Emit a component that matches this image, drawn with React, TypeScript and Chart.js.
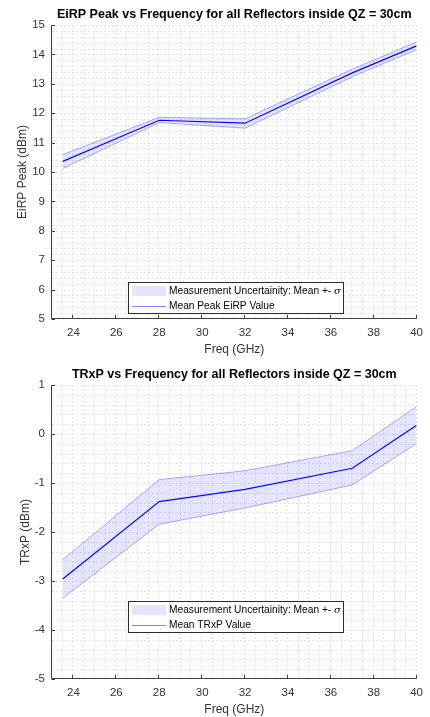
import React, { useEffect, useRef } from "react";
import { Chart, registerables } from "chart.js";

Chart.register(...registerables);

// Frequencies of the measurement points (GHz)
const FREQ_GHZ = [23.5, 28, 32, 37, 40];

// Peak EiRP over all reflectors inside QZ = 30cm (dBm)
const EIRP_MEAN = [10.36, 11.76, 11.66, 13.37, 14.29];
const EIRP_UPPER = [10.59, 11.86, 11.81, 13.5, 14.42];
const EIRP_LOWER = [10.12, 11.68, 11.49, 13.24, 14.16];

// TRxP over all reflectors inside QZ = 30cm (dBm)
const TRXP_MEAN = [-2.96, -1.38, -1.13, -0.7, 0.18];
const TRXP_UPPER = [-2.57, -0.93, -0.75, -0.34, 0.56];
const TRXP_LOWER = [-3.35, -1.84, -1.51, -1.04, -0.19];

// Axis ticks
const FREQ_TICKS = [24, 26, 28, 30, 32, 34, 36, 38, 40];
const EIRP_TICKS = [5, 6, 7, 8, 9, 10, 11, 12, 13, 14, 15];
const TRXP_TICKS = [-5, -4, -3, -2, -1, 0, 1];

const FONT = "'Liberation Sans', Arial, Helvetica, sans-serif";
const BAND_FILL = "rgba(0, 0, 255, 0.1)";
const BAND_EDGE = "rgba(0, 0, 255, 0.32)";
const MEAN_LINE = "rgb(10, 10, 245)";
const AXIS_COLOR = "#404040";
const TEXT_COLOR = "#333333";

const points = (ys: number[]) => FREQ_GHZ.map((x, i) => ({ x, y: ys[i] }));

// MATLAB-style axes: dotted major/minor grid, inward tick marks,
// left/bottom axis lines, titles and a boxed legend.
const matlabAxes = {
  id: "matlabAxes",
  beforeDatasetsDraw(chart: any, _args: any, opts: any) {
    const { ctx, chartArea: a, scales } = chart;
    const x = scales.x;
    const y = scales.y;
    ctx.save();
    ctx.strokeStyle = "#e2e2e2";
    ctx.lineWidth = 1;
    ctx.setLineDash([2, 2]);
    const nx = Math.round((x.max - x.min) / opts.xMinor);
    for (let i = 1; i <= nx; i++) {
      const px = Math.round(x.getPixelForValue(x.min + i * opts.xMinor)) - 0.5;
      ctx.beginPath();
      ctx.moveTo(px, a.top);
      ctx.lineTo(px, a.bottom);
      ctx.stroke();
    }
    const ny = Math.round((y.max - y.min) / opts.yMinor);
    for (let i = 1; i <= ny; i++) {
      const py = Math.round(y.getPixelForValue(y.min + i * opts.yMinor)) + 0.5;
      ctx.beginPath();
      ctx.moveTo(a.left, py);
      ctx.lineTo(a.right, py);
      ctx.stroke();
    }
    ctx.restore();
  },
  afterDraw(chart: any, _args: any, opts: any) {
    const { ctx, chartArea: a, scales } = chart;
    const x = scales.x;
    const y = scales.y;
    ctx.save();

    // axis lines and inward ticks
    const ax = Math.round(a.left) - 0.5;
    const ay = Math.round(a.bottom) - 0.5;
    ctx.strokeStyle = AXIS_COLOR;
    ctx.lineWidth = 1;
    ctx.setLineDash([]);
    ctx.beginPath();
    ctx.moveTo(ax, a.top);
    ctx.lineTo(ax, ay);
    ctx.lineTo(a.right, ay);
    for (const t of x.ticks) {
      const px = Math.round(x.getPixelForValue(t.value)) - 0.5;
      ctx.moveTo(px, ay);
      ctx.lineTo(px, ay - 3.5);
    }
    for (const t of y.ticks) {
      const py = Math.round(y.getPixelForValue(t.value)) + 0.5;
      ctx.moveTo(ax, py);
      ctx.lineTo(ax + 3.5, py);
    }
    ctx.stroke();

    const cx = (a.left + a.right) / 2;
    const cy = (a.top + a.bottom) / 2;

    // title
    ctx.fillStyle = "#000";
    ctx.font = `bold 12.5px ${FONT}`;
    ctx.textAlign = "center";
    ctx.textBaseline = "middle";
    ctx.fillText(opts.title, cx, opts.titleY);

    // axis titles
    ctx.fillStyle = TEXT_COLOR;
    ctx.font = `12px ${FONT}`;
    ctx.fillText(opts.xTitle, cx, a.bottom + 31);
    ctx.save();
    ctx.translate(opts.yTitleX, cy);
    ctx.rotate(-Math.PI / 2);
    ctx.fillText(opts.yTitle, 0, 0);
    ctx.restore();

    // legend
    const ds = chart.data.datasets;
    const L = opts.legend;
    const bx = L.left + 0.5;
    const by = L.top + 0.5;
    ctx.fillStyle = "#fff";
    ctx.fillRect(bx, by, L.width, L.height);
    ctx.strokeStyle = "#2b2b2b";
    ctx.strokeRect(bx, by, L.width, L.height);

    const row1 = L.top + 9;
    const row2 = L.top + 24;
    ctx.fillStyle = "rgb(228, 228, 252)";
    ctx.fillRect(L.left + 4, row1 - 5, 34, 10);
    ctx.strokeStyle = "rgb(130, 130, 255)";
    ctx.beginPath();
    ctx.moveTo(L.left + 4, row2 + 0.5);
    ctx.lineTo(L.left + 38, row2 + 0.5);
    ctx.stroke();

    const drawLabel = (text: string, tx: number, ty: number) => {
      ctx.fillStyle = "#000";
      ctx.textAlign = "left";
      ctx.textBaseline = "middle";
      const idx = text.indexOf("σ");
      const head = idx >= 0 ? text.slice(0, idx) : text;
      ctx.font = `10.2px ${FONT}`;
      ctx.fillText(head, tx, ty);
      if (idx >= 0) {
        const w = ctx.measureText(head).width;
        ctx.font = `italic 10px 'DejaVu Serif', serif`;
        ctx.fillText("σ", tx + w, ty);
      }
    };
    drawLabel(ds[0].label, L.left + 41, row1);
    drawLabel(ds[2].label, L.left + 41, row2);

    ctx.restore();
  },
};

function makeConfig(spec: any) {
  const { upper, lower, mean, meanLabel, yTicks, yMin, yMax, padTop, xAxisHeight } = spec;
  const line = { pointRadius: 0, tension: 0, borderWidth: 1 };
  return {
    type: "line",
    data: {
      datasets: [
        {
          ...line,
          label: "Measurement Uncertainity: Mean +- σ",
          data: points(upper),
          borderColor: BAND_EDGE,
          backgroundColor: BAND_FILL,
          fill: "+1",
        },
        {
          ...line,
          label: "Lower bound",
          data: points(lower),
          borderColor: BAND_EDGE,
          fill: false,
        },
        {
          ...line,
          label: meanLabel,
          data: points(mean),
          borderColor: MEAN_LINE,
          borderWidth: 1.2,
          fill: false,
        },
      ],
    },
    options: {
      responsive: false,
      animation: false,
      devicePixelRatio: 1,
      layout: { padding: { top: padTop, right: 7, left: 0, bottom: 0 } },
      scales: {
        x: {
          type: "linear",
          min: 23,
          max: 40,
          grid: { display: false, drawTicks: false },
          border: { display: false },
          afterBuildTicks: (s: any) => {
            s.ticks = FREQ_TICKS.map((value) => ({ value }));
          },
          afterFit: (s: any) => {
            s.height = xAxisHeight;
          },
          ticks: {
            padding: 7,
            color: TEXT_COLOR,
            font: { family: FONT, size: 11.5 },
            autoSkip: false,
            maxRotation: 0,
          },
        },
        y: {
          type: "linear",
          min: yMin,
          max: yMax,
          grid: { display: false, drawTicks: false },
          border: { display: false },
          afterBuildTicks: (s: any) => {
            s.ticks = yTicks.map((value: number) => ({ value }));
          },
          afterFit: (s: any) => {
            s.width = 52;
          },
          ticks: {
            padding: 7,
            color: TEXT_COLOR,
            font: { family: FONT, size: 11.5 },
          },
        },
      },
      plugins: {
        legend: { display: false },
        title: { display: false },
        tooltip: { enabled: false },
        matlabAxes: {
          xMinor: 0.5,
          yMinor: 0.2,
          title: spec.title,
          titleY: spec.titleY,
          xTitle: "Freq (GHz)",
          yTitle: spec.yTitle,
          yTitleX: spec.yTitleX,
          legend: spec.legend,
        },
      },
    },
    plugins: [matlabAxes],
  };
}

function PlotPanel({ spec, height }: { spec: any; height: number }) {
  const ref = useRef<HTMLCanvasElement>(null);
  useEffect(() => {
    const chart = new Chart(ref.current as HTMLCanvasElement, makeConfig(spec) as any);
    return () => chart.destroy();
  }, [spec]);
  return <canvas ref={ref} width={430} height={height} style={{ display: "block" }} />;
}

const EIRP_SPEC = {
  title: "EiRP Peak vs Frequency for all Reflectors inside QZ = 30cm",
  titleY: 15,
  yTitle: "EiRP Peak (dBm)",
  yTitleX: 23,
  meanLabel: "Mean Peak EiRP Value",
  upper: EIRP_UPPER,
  lower: EIRP_LOWER,
  mean: EIRP_MEAN,
  yTicks: EIRP_TICKS,
  yMin: 5,
  yMax: 15,
  padTop: 25,
  xAxisHeight: 39,
  legend: { left: 128, top: 282, width: 215, height: 31 },
};

const TRXP_SPEC = {
  title: "TRxP vs Frequency for all Reflectors inside QZ = 30cm",
  titleY: 17,
  yTitle: "TRxP (dBm)",
  yTitleX: 26,
  meanLabel: "Mean TRxP Value",
  upper: TRXP_UPPER,
  lower: TRXP_LOWER,
  mean: TRXP_MEAN,
  yTicks: TRXP_TICKS,
  yMin: -5,
  yMax: 1,
  padTop: 27,
  xAxisHeight: 38,
  legend: { left: 128, top: 243, width: 215, height: 31 },
};

export default function App() {
  return (
    <div style={{ position: "absolute", left: 0, top: 0, width: 430, height: 717, background: "#fff" }}>
      <PlotPanel spec={EIRP_SPEC} height={358} />
      <PlotPanel spec={TRXP_SPEC} height={359} />
    </div>
  );
}
